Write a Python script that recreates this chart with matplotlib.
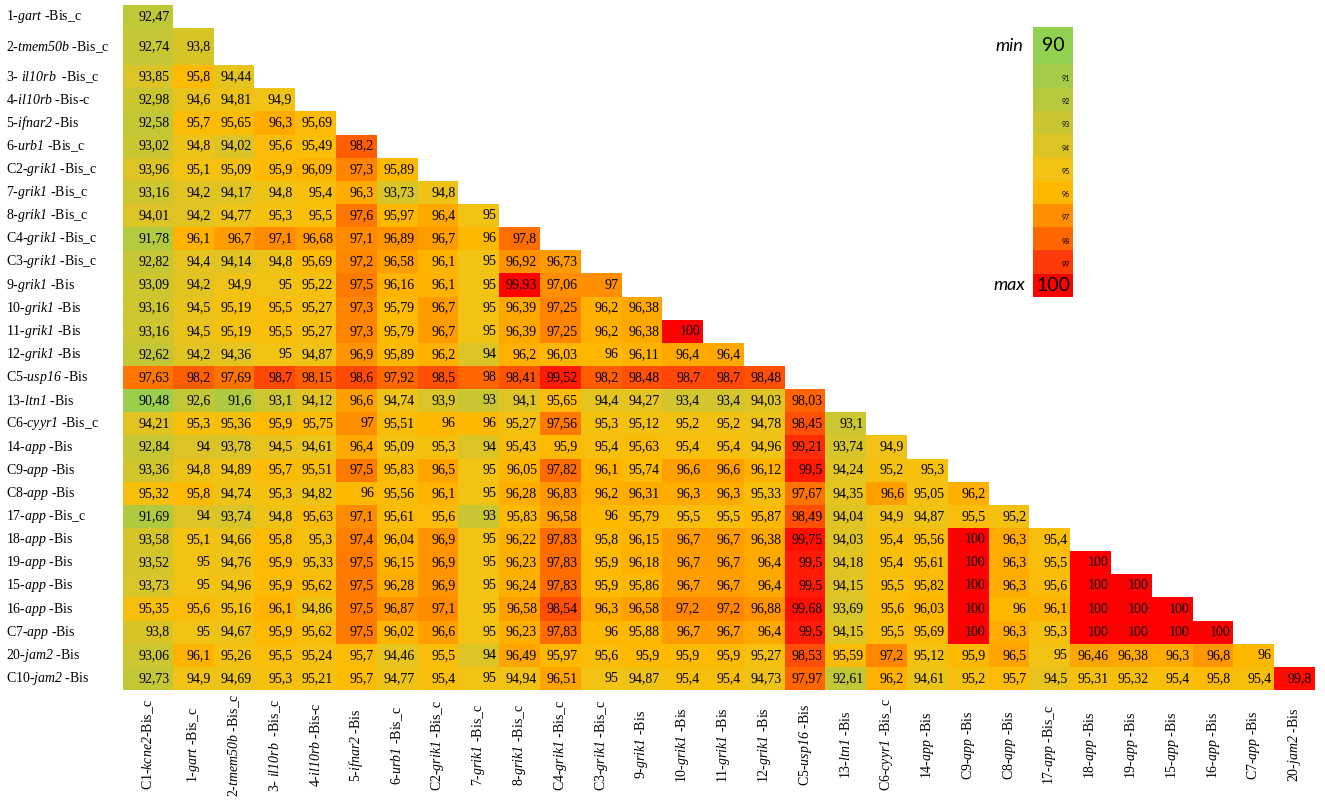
import numpy as np
import matplotlib
matplotlib.use("Agg")
import matplotlib.pyplot as plt
from matplotlib.colors import LinearSegmentedColormap
from matplotlib.transforms import blended_transform_factory

plt.rcParams['font.family'] = ['Liberation Serif', 'DejaVu Serif']
plt.rcParams['mathtext.fontset'] = 'custom'
plt.rcParams['mathtext.rm'] = 'Liberation Serif:italic'
plt.rcParams['mathtext.it'] = 'Liberation Serif:italic'

# sample names: (prefix, gene in italics, suffix)
names = [
    ("C1-", "kcne2", "-Bis_c"),
    ("1-", "gart", " -Bis_c"),
    ("2-", "tmem50b", " -Bis_c"),
    ("3- ", "il10rb", "  -Bis_c"),
    ("4-", "il10rb", " -Bis-c"),
    ("5-", "ifnar2", " -Bis"),
    ("6-", "urb1", " -Bis_c"),
    ("C2-", "grik1", " -Bis_c"),
    ("7-", "grik1", " -Bis_c"),
    ("8-", "grik1", " -Bis_c"),
    ("C4-", "grik1", " -Bis_c"),
    ("C3-", "grik1", " -Bis_c"),
    ("9-", "grik1", " -Bis"),
    ("10-", "grik1", " -Bis"),
    ("11-", "grik1", " -Bis"),
    ("12-", "grik1", " -Bis"),
    ("C5-", "usp16", " -Bis"),
    ("13-", "ltn1", " -Bis"),
    ("C6-", "cyyr1", " -Bis_c"),
    ("14-", "app", " -Bis"),
    ("C9-", "app", " -Bis"),
    ("C8-", "app", " -Bis"),
    ("17-", "app", " -Bis_c"),
    ("18-", "app", " -Bis"),
    ("19-", "app", " -Bis"),
    ("15-", "app", " -Bis"),
    ("16-", "app", " -Bis"),
    ("C7-", "app", " -Bis"),
    ("20-", "jam2", " -Bis"),
    ("C10-", "jam2", " -Bis"),
]

# identity values (%) per row, lower triangle
v_1_gart = [92.47]
v_2_tmem50b = [92.74, 93.8]
v_3_il10rb = [93.85, 95.8, 94.44]
v_4_il10rb = [92.98, 94.6, 94.81, 94.9]
v_5_ifnar2 = [92.58, 95.7, 95.65, 96.3, 95.69]
v_6_urb1 = [93.02, 94.8, 94.02, 95.6, 95.49, 98.2]
v_c2_grik1 = [93.96, 95.1, 95.09, 95.9, 96.09, 97.3, 95.89]
v_7_grik1 = [93.16, 94.2, 94.17, 94.8, 95.4, 96.3, 93.73, 94.8]
v_8_grik1 = [94.01, 94.2, 94.77, 95.3, 95.5, 97.6, 95.97, 96.4, 95]
v_c4_grik1 = [91.78, 96.1, 96.7, 97.1, 96.68, 97.1, 96.89, 96.7, 96, 97.8]
v_c3_grik1 = [92.82, 94.4, 94.14, 94.8, 95.69, 97.2, 96.58, 96.1, 95, 96.92, 96.73]
v_9_grik1 = [93.09, 94.2, 94.9, 95, 95.22, 97.5, 96.16, 96.1, 95, 99.93, 97.06, 97]
v_10_grik1 = [93.16, 94.5, 95.19, 95.5, 95.27, 97.3, 95.79, 96.7, 95, 96.39, 97.25, 96.2,
              96.38]
v_11_grik1 = [93.16, 94.5, 95.19, 95.5, 95.27, 97.3, 95.79, 96.7, 95, 96.39, 97.25, 96.2,
              96.38, 100]
v_12_grik1 = [92.62, 94.2, 94.36, 95, 94.87, 96.9, 95.89, 96.2, 94, 96.2, 96.03, 96,
              96.11, 96.4, 96.4]
v_c5_usp16 = [97.63, 98.2, 97.69, 98.7, 98.15, 98.6, 97.92, 98.5, 98, 98.41, 99.52, 98.2,
              98.48, 98.7, 98.7, 98.48]
v_13_ltn1 = [90.48, 92.6, 91.6, 93.1, 94.12, 96.6, 94.74, 93.9, 93, 94.1, 95.65, 94.4,
             94.27, 93.4, 93.4, 94.03, 98.03]
v_c6_cyyr1 = [94.21, 95.3, 95.36, 95.9, 95.75, 97, 95.51, 96, 96, 95.27, 97.56, 95.3,
              95.12, 95.2, 95.2, 94.78, 98.45, 93.1]
v_14_app = [92.84, 94, 93.78, 94.5, 94.61, 96.4, 95.09, 95.3, 94, 95.43, 95.9, 95.4,
            95.63, 95.4, 95.4, 94.96, 99.21, 93.74, 94.9]
v_c9_app = [93.36, 94.8, 94.89, 95.7, 95.51, 97.5, 95.83, 96.5, 95, 96.05, 97.82, 96.1,
            95.74, 96.6, 96.6, 96.12, 99.5, 94.24, 95.2, 95.3]
v_c8_app = [95.32, 95.8, 94.74, 95.3, 94.82, 96, 95.56, 96.1, 95, 96.28, 96.83, 96.2,
            96.31, 96.3, 96.3, 95.33, 97.67, 94.35, 96.6, 95.05, 96.2]
v_17_app = [91.69, 94, 93.74, 94.8, 95.63, 97.1, 95.61, 95.6, 93, 95.83, 96.58, 96,
            95.79, 95.5, 95.5, 95.87, 98.49, 94.04, 94.9, 94.87, 95.5, 95.2]
v_18_app = [93.58, 95.1, 94.66, 95.8, 95.3, 97.4, 96.04, 96.9, 95, 96.22, 97.83, 95.8,
            96.15, 96.7, 96.7, 96.38, 99.75, 94.03, 95.4, 95.56, 100, 96.3, 95.4]
v_19_app = [93.52, 95, 94.76, 95.9, 95.33, 97.5, 96.15, 96.9, 95, 96.23, 97.83, 95.9,
            96.18, 96.7, 96.7, 96.4, 99.5, 94.18, 95.4, 95.61, 100, 96.3, 95.5, 100]
v_15_app = [93.73, 95, 94.96, 95.9, 95.62, 97.5, 96.28, 96.9, 95, 96.24, 97.83, 95.9,
            95.86, 96.7, 96.7, 96.4, 99.5, 94.15, 95.5, 95.82, 100, 96.3, 95.6, 100, 100]
v_16_app = [95.35, 95.6, 95.16, 96.1, 94.86, 97.5, 96.87, 97.1, 95, 96.58, 98.54, 96.3,
            96.58, 97.2, 97.2, 96.88, 99.68, 93.69, 95.6, 96.03, 100, 96, 96.1, 100, 100,
            100]
v_c7_app = [93.8, 95, 94.67, 95.9, 95.62, 97.5, 96.02, 96.6, 95, 96.23, 97.83, 96,
            95.88, 96.7, 96.7, 96.4, 99.5, 94.15, 95.5, 95.69, 100, 96.3, 95.3, 100, 100,
            100, 100]
v_20_jam2 = [93.06, 96.1, 95.26, 95.5, 95.24, 95.7, 94.46, 95.5, 94, 96.49, 95.97, 95.6,
             95.9, 95.9, 95.9, 95.27, 98.53, 95.59, 97.2, 95.12, 95.9, 96.5, 95, 96.46,
             96.38, 96.3, 96.8, 96]
v_c10_jam2 = [92.73, 94.9, 94.69, 95.3, 95.21, 95.7, 94.77, 95.4, 95, 94.94, 96.51, 95,
              94.87, 95.4, 95.4, 94.73, 97.97, 92.61, 96.2, 94.61, 95.2, 95.7, 94.5, 95.31,
              95.32, 95.4, 95.8, 95.4, 99.8]

rows = [v_1_gart, v_2_tmem50b, v_3_il10rb, v_4_il10rb, v_5_ifnar2, v_6_urb1,
        v_c2_grik1, v_7_grik1, v_8_grik1, v_c4_grik1, v_c3_grik1, v_9_grik1,
        v_10_grik1, v_11_grik1, v_12_grik1, v_c5_usp16, v_13_ltn1, v_c6_cyyr1,
        v_14_app, v_c9_app, v_c8_app, v_17_app, v_18_app, v_19_app, v_15_app,
        v_16_app, v_c7_app, v_20_jam2, v_c10_jam2]

legend_steps = [90, 91, 92, 93, 94, 95, 96, 97, 98, 99, 100]

# excel-like colour scale green -> yellow -> red
cmap = LinearSegmentedColormap.from_list("idscale", [
    (0.0, "#92D050"), (0.1, "#A4CC48"), (0.2, "#B6C93C"), (0.3, "#CAC632"),
    (0.4, "#DDC426"), (0.5, "#F2C314"), (0.6, "#FFB800"), (0.7, "#FF9000"),
    (0.8, "#FF6600"), (0.9, "#FF3A0A"), (1.0, "#FF0000")])


def label(n):
    pre, gene, suf = n
    return pre + r"$\mathit{" + gene + "}$" + suf


def fmt(v):
    return f"{v:.2f}".rstrip("0").rstrip(".").replace(".", ",")


n = len(rows)
M = np.full((n, n), np.nan)
for i, r in enumerate(rows):
    M[i, :len(r)] = r

# spreadsheet-like grid: 2nd row is taller, 1st column is wider
row_h = np.ones(n)
row_h[1] = 1.6
col_w = np.ones(n)
col_w[0] = 1.22
yedges = np.concatenate([[0], np.cumsum(row_h)])
xedges = np.concatenate([[0], np.cumsum(col_w)])
ymid = (yedges[:-1] + yedges[1:]) / 2
xmid = (xedges[:-1] + xedges[1:]) / 2

W, H = 1325, 807
fig = plt.figure(figsize=(W / 100, H / 100), dpi=100)
ax = fig.add_axes([123 / W, 1 - 690 / H, 1192 / W, 685 / H])
ax.pcolormesh(xedges, yedges, np.ma.masked_invalid(M), cmap=cmap, vmin=90, vmax=100)
ax.set_xlim(0, xedges[-1])
ax.set_ylim(yedges[-1], 0)
ax.axis("off")

for i, r in enumerate(rows):
    for j, v in enumerate(r):
        ax.text(xedges[j + 1] - 0.07, ymid[i], fmt(v), ha="right", va="center",
                fontsize=10)

row_tr = blended_transform_factory(fig.transFigure, ax.transData)
for i, nm in enumerate(names[1:]):
    ax.text(6 / W, ymid[i], label(nm), transform=row_tr, ha="left", va="center",
            fontsize=10)

col_tr = blended_transform_factory(ax.transData, fig.transFigure)
for j, nm in enumerate(names[:-1]):
    ax.text(xmid[j], 1 - 745 / H, label(nm), transform=col_tr, rotation=90,
            ha="center", va="center", fontsize=10)

# colour key, sitting in the same spreadsheet rows (first one taller)
k = len(legend_steps)
key_h = np.ones(k)
key_h[0] = 1.6
kedges = np.concatenate([[0], np.cumsum(key_h)])
kmid = (kedges[:-1] + kedges[1:]) / 2
lax = fig.add_axes([1033 / W, 1 - 297 / H, 40 / W, 270 / H])
lax.pcolormesh([0, 1], kedges, np.array(legend_steps).reshape(-1, 1), cmap=cmap,
               vmin=90, vmax=100)
lax.set_xlim(0, 1)
lax.set_ylim(kedges[-1], 0)
lax.axis("off")
for idx, s in enumerate(legend_steps):
    if idx == 0 or idx == k - 1:
        lax.text(0.5, kmid[idx], str(s), ha="center", va="center", fontsize=14,
                 family="Lato")
    else:
        lax.text(0.92, kmid[idx] + 0.1, str(s), ha="right", va="center", fontsize=5,
                 family="Lato")
lax.text(-0.25, kmid[0], "min", ha="right", va="center", fontsize=13, style="italic",
         family="Lato")
lax.text(-0.2, kmid[-1], "max", ha="right", va="center", fontsize=13,
         style="italic", family="Lato")

fig.savefig("out.png", dpi=100)
